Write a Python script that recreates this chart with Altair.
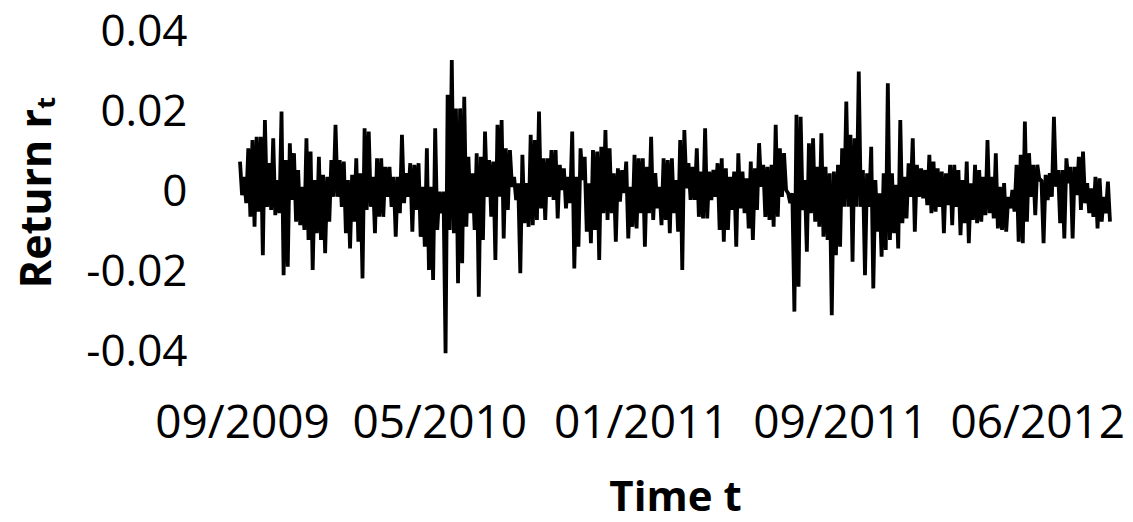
import altair as alt
import pandas as pd

# Per-segment peak (high) and trough (low) returns, in time order
high_1 = [0.0076, 0.0038, 0.0109, 0.0130, 0.0138, 0.0138, 0.0180, 0.0072, 0.0134, 0.0030,
          0.0201, 0.0080, 0.0122, 0.0097, 0.0055, 0.0013, 0.0134, 0.0101, 0.0030, 0.0088,
          0.0043, 0.0038, 0.0080, 0.0168, 0.0080, 0.0076, 0.0030, 0.0043, 0.0084, 0.0047,
          0.0159, 0.0151, 0.0038, 0.0084, 0.0084, 0.0063, 0.0063, 0.0038, 0.0038, 0.0143,
          0.0047, 0.0072, 0.0068, 0.0072, 0.0013, 0.0109, 0.0013, 0.0159, 0.0001, 0.0001,
          0.0243, 0.0330, 0.0209]
low_1 = [-0.0008, -0.0028, -0.0062, -0.0087, -0.0049, -0.0158, -0.0037, -0.0045, -0.0058, -0.0053,
         -0.0208, -0.0187, -0.0020, -0.0074, -0.0083, -0.0095, -0.0120, -0.0195, -0.0103, -0.0120,
         -0.0153, -0.0074, -0.0012, -0.0012, -0.0037, -0.0103, -0.0141, -0.0074, -0.0124, -0.0216,
         -0.0045, -0.0037, -0.0103, -0.0062, -0.0062, -0.0012, -0.0037, -0.0112, -0.0053, -0.0028,
         -0.0012, -0.0099, -0.0045, -0.0112, -0.0137, -0.0195, -0.0220, -0.0095, -0.0053, -0.0403,
         -0.0095, -0.0103, -0.0228]

high_2 = [0.0209, 0.0238, 0.0088, 0.0047, 0.0097, 0.0088, 0.0151, 0.0080, 0.0076, 0.0168,
          0.0180, 0.0109, 0.0105, 0.0038, 0.0022, 0.0093, 0.0022, 0.0143, 0.0130, 0.0201,
          0.0084, 0.0084, 0.0105, 0.0105, 0.0068, 0.0059, 0.0038, 0.0151, 0.0038, 0.0109,
          0.0088, 0.0022, 0.0105, 0.0101, 0.0113, 0.0155, 0.0109, 0.0047, 0.0059, 0.0055,
          0.0076, 0.0013, 0.0093, 0.0084, 0.0084, 0.0063, 0.0138, 0.0047, 0.0013, 0.0084,
          0.0080, 0.0084, 0.0030, 0.0130]
low_2 = [-0.0178, -0.0087, -0.0053, -0.0095, -0.0262, -0.0120, -0.0012, -0.0062, -0.0170, -0.0012,
         -0.0116, -0.0045, 0.0013, -0.0020, -0.0203, -0.0078, -0.0087, -0.0083, -0.0070, -0.0041,
         -0.0070, -0.0012, -0.0020, -0.0066, 0.0005, -0.0041, -0.0028, -0.0191, -0.0137, 0.0030,
         -0.0099, -0.0128, -0.0095, -0.0170, -0.0053, -0.0070, -0.0053, -0.0124, -0.0024, -0.0003,
         -0.0116, -0.0087, -0.0091, -0.0053, -0.0137, -0.0053, -0.0070, -0.0041, -0.0083, -0.0070,
         -0.0103, -0.0053, -0.0099, -0.0195]

high_3 = [0.0155, 0.0072, 0.0063, 0.0109, 0.0051, 0.0159, 0.0051, 0.0055, 0.0072, 0.0084,
          0.0059, 0.0038, 0.0051, 0.0097, 0.0051, 0.0034, 0.0076, 0.0059, 0.0122, 0.0068,
          0.0063, 0.0068, 0.0168, 0.0109, 0.0097, -0.0003, -0.0003, 0.0193, 0.0188, 0.0030,
          0.0122, 0.0134, 0.0063, 0.0147, 0.0063, 0.0047, 0.0051, 0.0068, 0.0109, 0.0226,
          0.0143, 0.0134, 0.0301, 0.0055, 0.0047, 0.0113, 0.0030, -0.0003, 0.0047, 0.0272]
low_3 = [0.0009, -0.0020, -0.0020, -0.0062, -0.0066, -0.0066, -0.0020, -0.0012, -0.0095, -0.0124,
         -0.0095, -0.0045, -0.0137, -0.0041, -0.0053, -0.0091, -0.0120, -0.0045, 0.0013, -0.0062,
         -0.0070, -0.0087, -0.0062, -0.0012, 0.0005, -0.0028, -0.0299, -0.0237, -0.0045, -0.0149,
         -0.0053, -0.0074, -0.0087, -0.0112, -0.0120, -0.0308, -0.0158, -0.0137, -0.0037, -0.0037,
         -0.0174, -0.0037, -0.0037, -0.0208, -0.0037, -0.0241, -0.0099, -0.0162, -0.0145, -0.0120]

high_4 = [0.0047, 0.0018, 0.0180, 0.0038, 0.0072, 0.0134, 0.0068, 0.0059, 0.0055, 0.0093,
          0.0076, 0.0059, 0.0051, 0.0047, 0.0068, 0.0068, 0.0055, 0.0030, 0.0076, 0.0022,
          0.0068, 0.0055, 0.0038, 0.0130, 0.0038, 0.0097, 0.0013, 0.0022, -0.0012, 0.0005,
          0.0068, 0.0093, 0.0176, 0.0097, 0.0068, 0.0068, 0.0030, 0.0043, 0.0047, 0.0188,
          0.0055, 0.0055, 0.0084, 0.0063, 0.0063, 0.0088, 0.0101, 0.0022, 0.0009, 0.0038,
          0.0034, -0.0012, 0.0026]
low_4 = [-0.0103, -0.0141, -0.0078, -0.0066, -0.0012, -0.0099, -0.0012, -0.0016, -0.0033, -0.0053,
         -0.0049, -0.0037, -0.0103, -0.0033, -0.0083, -0.0037, -0.0108, -0.0078, -0.0128, -0.0070,
         -0.0078, -0.0074, -0.0058, -0.0053, -0.0066, -0.0091, -0.0095, -0.0099, -0.0041, -0.0049,
         -0.0124, -0.0128, -0.0074, -0.0012, -0.0058, 0.0030, -0.0128, -0.0020, -0.0012, 0.0013,
         -0.0078, -0.0116, 0.0022, -0.0116, -0.0008, -0.0045, -0.0028, -0.0053, -0.0062, -0.0091,
         -0.0074, -0.0053, -0.0074]

x_tick_index = [1, 96, 193, 289, 384]
x_tick_labels = ["09/2009", "05/2010", "01/2011", "09/2011", "06/2012"]
y_tick_values = [-0.04, -0.02, 0, 0.02, 0.04]
y_tick_labels = ["-0.04", "-0.02", "0", "0.02", "0.04"]

highs = high_1 + high_2 + high_3 + high_4
lows = low_1 + low_2 + low_3 + low_4
returns = []
for h, l in zip(highs, lows):
    returns.append(h)
    returns.append(l)

df = pd.DataFrame({"t": list(range(len(returns))), "r": returns})
n_last = len(returns) - 1

x_expr = " : ".join(f"datum.value == {v} ? '{s}'" for v, s in zip(x_tick_index, x_tick_labels)) + " : ''"
y_expr = " : ".join(f"abs(datum.value - ({v})) < 1e-9 ? '{s}'" for v, s in zip(y_tick_values, y_tick_labels)) + " : ''"

FONT = "Open Sans, DejaVu Sans, sans-serif"

chart = alt.Chart(df).mark_line(
    color="black", strokeWidth=3.8, strokeJoin="bevel"
).encode(
    x=alt.X("t:Q",
            scale=alt.Scale(domain=[0, n_last], nice=False, zero=False),
            axis=alt.Axis(values=x_tick_index, labelExpr=x_expr, title="Time t",
                          domain=False, ticks=False, tickSize=0, grid=False,
                          labelFont=FONT, labelFontSize=46, labelColor="black",
                          labelPadding=49, labelOverlap=False, labelFlush=False,
                          labelBound=False,
                          titleFont=FONT, titleFontSize=42, titleFontWeight="bold",
                          titleColor="black", titleBaseline="alphabetic", titleY=158)),
    y=alt.Y("r:Q",
            scale=alt.Scale(domain=[-0.04, 0.04], nice=False),
            axis=alt.Axis(values=y_tick_values, labelExpr=y_expr, title="Return rₜ",
                          domain=False, ticks=False, tickSize=0, grid=False,
                          labelFont=FONT, labelFontSize=44, labelColor="black",
                          labelPadding=53, labelOverlap=False, labelFlush=False,
                          titleFont=FONT, titleFontSize=43, titleFontWeight="bold",
                          titleColor="black", titleBaseline="alphabetic", titleX=-190)),
).properties(
    width=870, height=320,
    autosize=alt.AutoSizeParams(type="none"),
    padding={"left": 232, "top": 24, "right": 15, "bottom": 162},
).configure_view(stroke=None)

chart.save("out.html", embed_options={"renderer": "svg", "actions": False})
